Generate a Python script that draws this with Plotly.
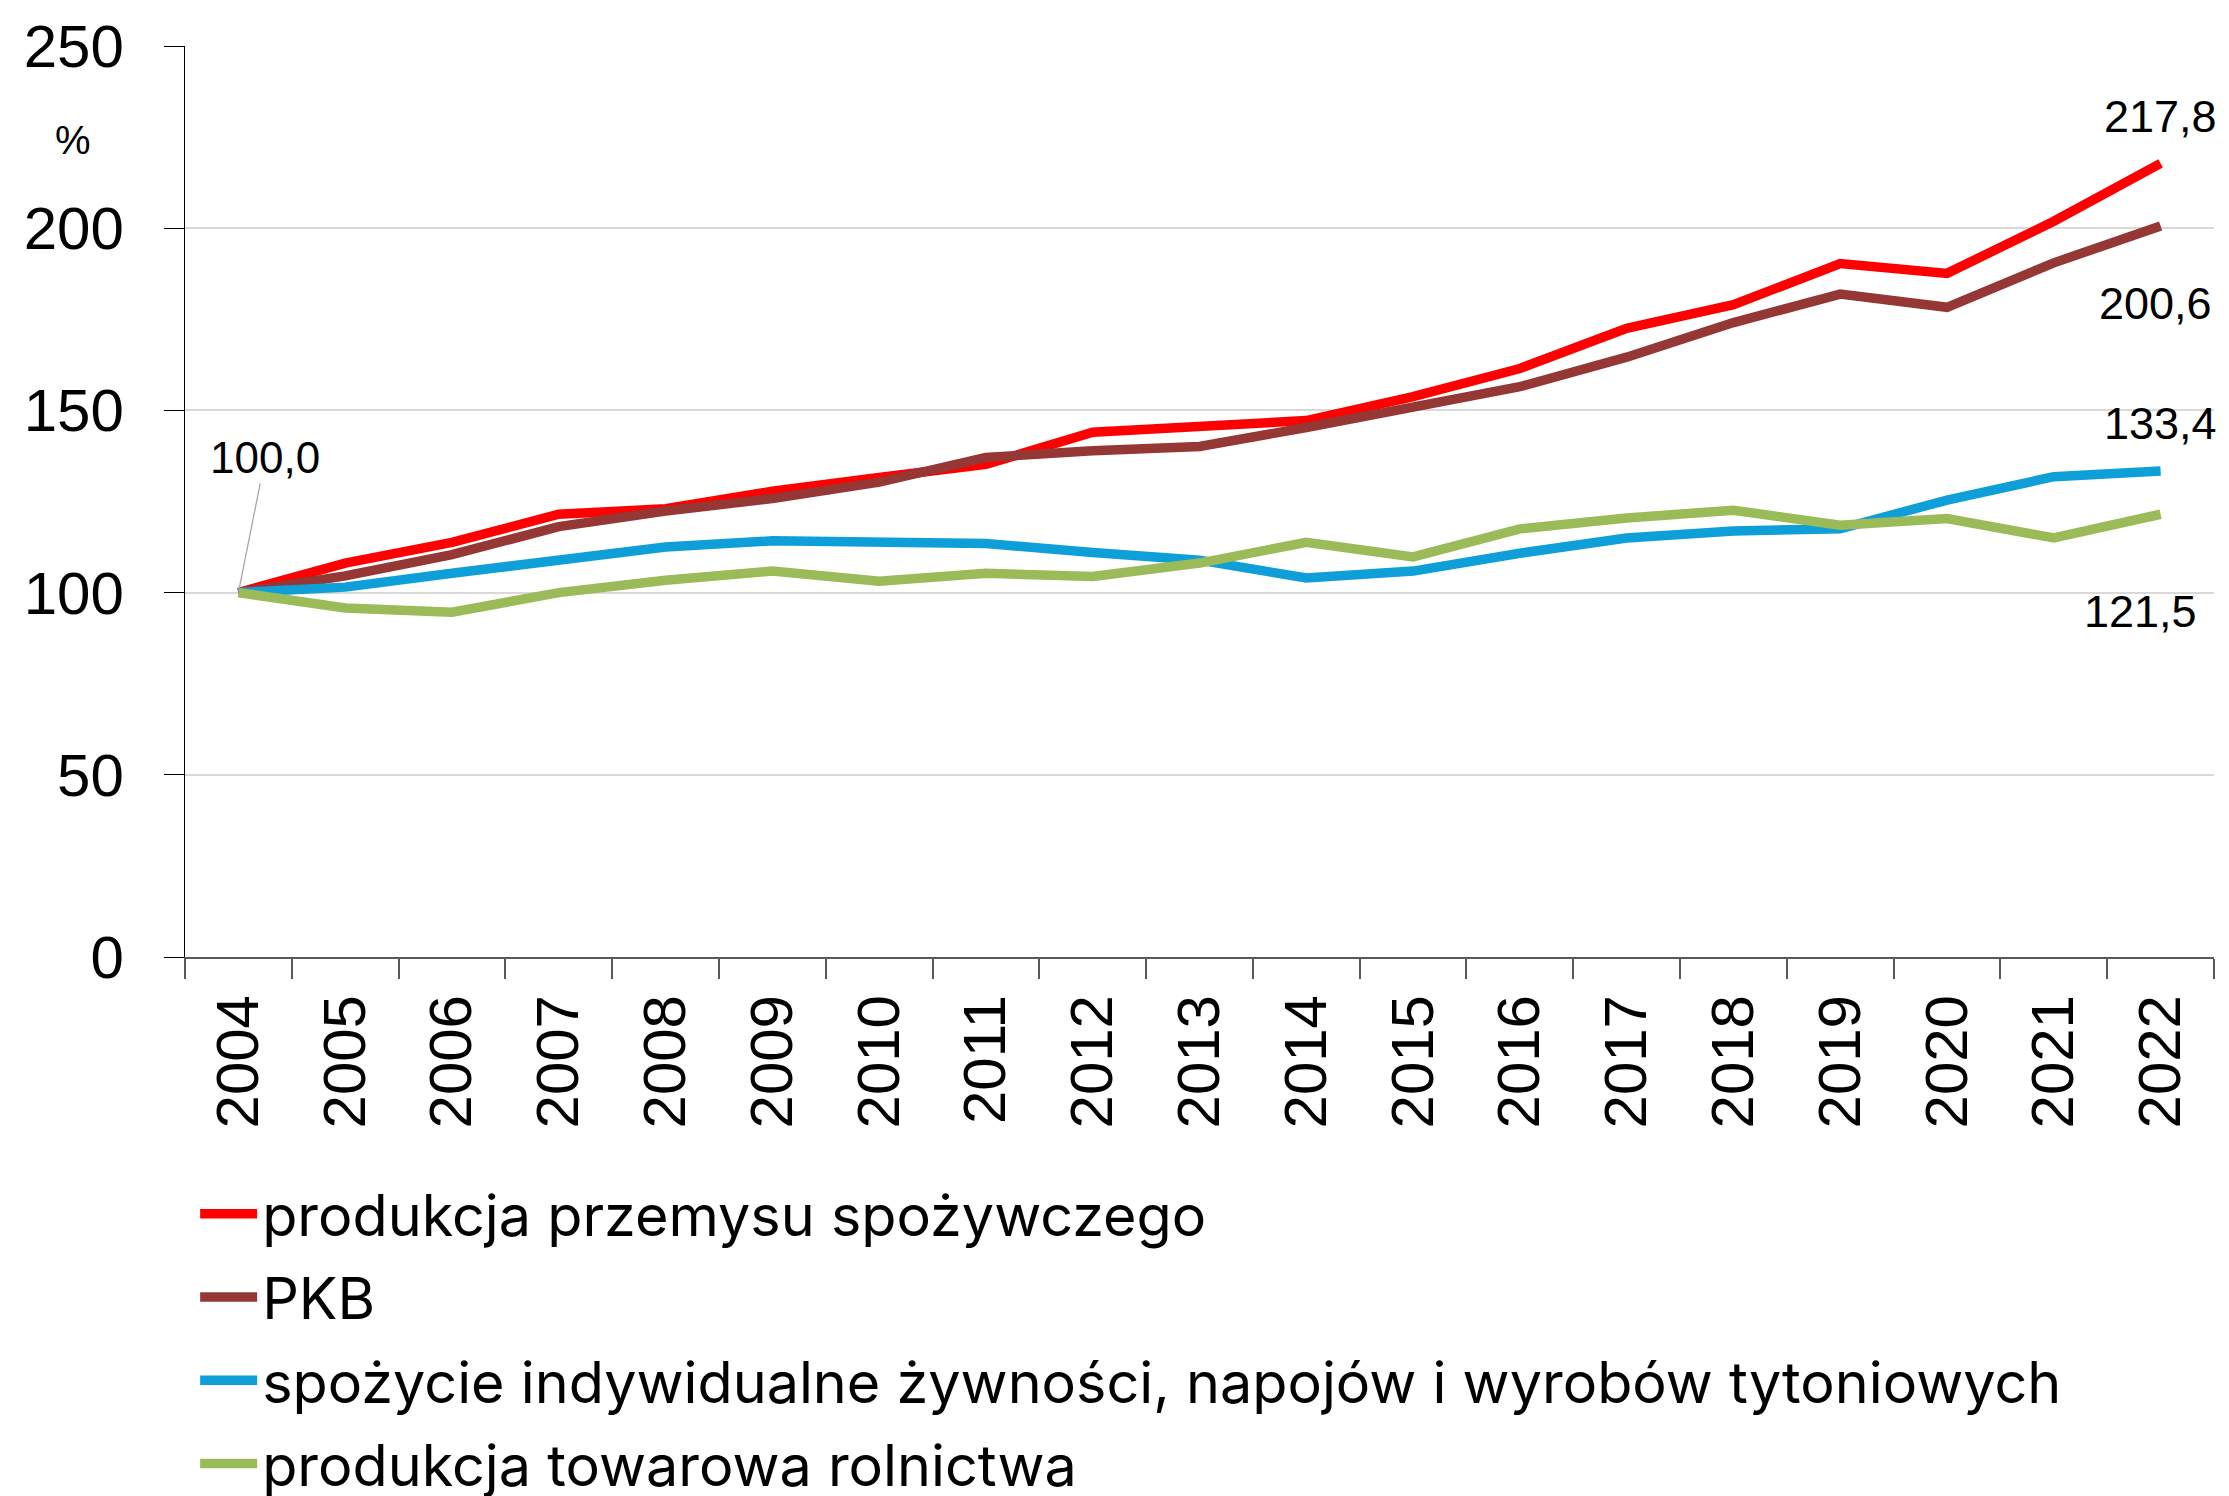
import plotly.graph_objects as go

years = [str(y) for y in range(2004, 2023)]

series_names = [
    "produkcja przemysu spożywczego",
    "PKB",
    "spożycie indywidualne żywności, napojów i wyrobów tytoniowych",
    "produkcja towarowa rolnictwa",
]
food_industry = [100, 108.1, 113.8, 121.5, 123.0, 127.8, 131.6, 135.2, 144.0, 145.6,
                 147.2, 153.8, 161.5, 172.5, 179.0, 190.3, 187.6, 201.9, 217.8]
gdp = [100, 104.6, 110.4, 118.1, 122.4, 125.8, 130.3, 137.1, 138.9, 140.1,
       145.3, 151.1, 156.5, 164.6, 174.1, 181.9, 178.3, 190.5, 200.6]
consumption = [100, 101.5, 105.3, 108.9, 112.5, 114.2, 113.9, 113.5, 111.0, 108.9,
               104.0, 105.9, 110.8, 115.0, 116.9, 117.5, 125.4, 131.8, 133.4]
agriculture = [100, 95.8, 94.6, 100.0, 103.4, 105.9, 103.1, 105.3, 104.4, 108.1,
               113.8, 109.8, 117.5, 120.5, 122.6, 118.5, 120.3, 115.0, 121.5]

colors = ["#FF0000", "#953735", "#0E9FD8", "#9BBB59"]
all_series = [food_industry, gdp, consumption, agriculture]

# offsets (px) of end-value labels relative to the last point
end_label_shift = [(0, 47), (-5, -77), (0, 47), (-20, -97)]

num_font = "Liberation Sans, Arial, sans-serif"

fig = go.Figure()
for i, (name, vals, col) in enumerate(zip(series_names, all_series, colors)):
    fig.add_trace(go.Scatter(
        x=years, y=vals, name=name, mode="lines",
        line=dict(color=col, width=9.5),
        legendgroup=f"g{i}",
        hoverinfo="skip",
    ))

def fmt(v):
    return f"{v:.1f}".replace(".", ",")

last_idx = len(years) - 1
annotations = []
for vals, (dx, dy) in zip(all_series, end_label_shift):
    annotations.append(dict(
        x=last_idx, y=vals[-1], xref="x", yref="y",
        text=fmt(vals[-1]), showarrow=False,
        xshift=dx, yshift=dy,
        font=dict(family=num_font, size=45, color="#000000"),
    ))

# start value label with leader line
annotations.append(dict(
    x=0, y=food_industry[0], xref="x", yref="y",
    text=fmt(food_industry[0]), showarrow=True,
    arrowhead=0, arrowwidth=1.3, arrowcolor="#A6A6A6",
    ax=27, ay=-135, standoff=2,
    font=dict(family=num_font, size=44, color="#000000"),
))

# unit label
annotations.append(dict(
    x=-0.0653, y=224.1, xref="paper", yref="y",
    text="%", showarrow=False,
    font=dict(family=num_font, size=40, color="#000000"),
))

fig.update_layout(
    width=2221, height=1488,
    margin=dict(l=177, r=15, t=37.5, b=539.3, autoexpand=False),
    paper_bgcolor="white", plot_bgcolor="white",
    showlegend=True,
    legend=dict(
        orientation="v",
        x=0.005, y=-0.2337, xanchor="left", yanchor="top",
        font=dict(family="Inter, Noto Sans, sans-serif", size=57.5, color="#000000"),
        itemwidth=57,
        tracegroupgap=5.5,
        bgcolor="rgba(0,0,0,0)",
    ),
    annotations=annotations,
)

fig.update_yaxes(
    range=[0, 250], dtick=50, tick0=0,
    showgrid=True, gridcolor="#D9D9D9", gridwidth=2,
    showline=True, linecolor="#000000", linewidth=1.3,
    ticks="outside", ticklen=20, tickcolor="#000000", tickwidth=1.3,
    tickfont=dict(family=num_font, size=60, color="#000000"),
    zeroline=False,
    ticklabelstandoff=28,
)
fig.update_xaxes(
    type="category", categoryorder="array", categoryarray=years,
    range=[-0.5, len(years) - 0.5],
    tickangle=-90, tickson="boundaries",
    showgrid=False,
    showline=True, linecolor="#595959", linewidth=2,
    ticks="outside", ticklen=20, tickcolor="#595959", tickwidth=1.5,
    tickfont=dict(family=num_font, size=60, color="#000000"),
    ticklabelstandoff=12,
)

fig.write_html("out.html")
